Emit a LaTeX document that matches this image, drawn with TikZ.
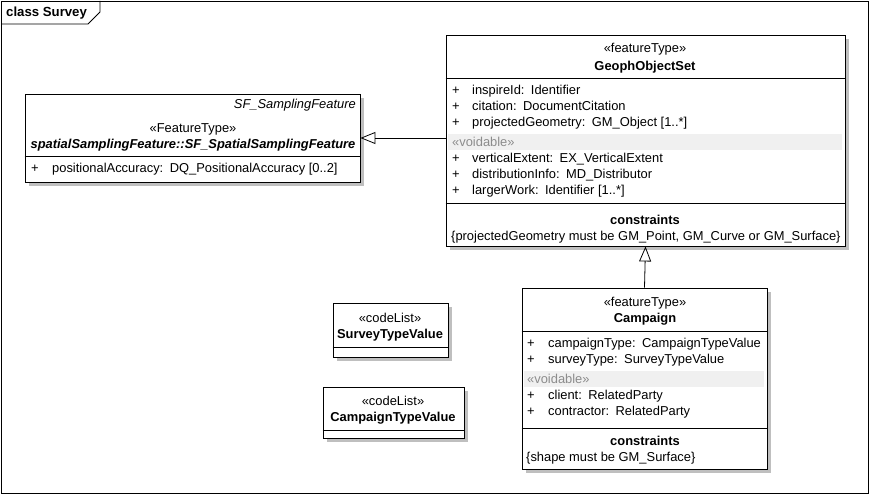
\documentclass[tikz,border=0pt]{standalone}
\usepackage{fontspec}
\setmainfont{Liberation Sans}
\usetikzlibrary{arrows.meta}

\tikzset{
  umlbox/.style={draw, line width=0.9pt, fill=white, inner sep=0pt},
  umlshadow/.style={fill=black!25},
  voidband/.style={fill=black!6},
  txt/.style={inner sep=0pt, anchor=mid, yshift=-2pt},
  attr/.style={inner sep=0pt, anchor=mid west, yshift=-2pt},
  inherit/.style={-{Triangle[open, width=12pt, length=15pt]}, line width=0.8pt},
}

\begin{document}
\begin{tikzpicture}[x=1pt, y=-1pt, font=\fontsize{12.9}{15}\selectfont]
  \useasboundingbox (0,0) rectangle (871,495);
  % frame and title tab
  \draw[line width=0.9pt] (1.5,1) rectangle (868,493);
  \draw[line width=0.9pt] (1.5,24) -- (88,24) -- (100,12) -- (100,1);
  \node[attr, font=\fontsize{13.2}{16}\selectfont\bfseries] (title) at (6,12) {class Survey};

  % class boxes
  \node[umlbox, minimum width=335pt, minimum height=88pt] (sf) at (192.5,138) {};
  \node[umlbox, minimum width=399pt, minimum height=211pt] (geo) at (645.5,140.5) {};
  \node[umlbox, minimum width=245pt, minimum height=181pt] (camp) at (644.5,378.5) {};
  \node[umlbox, minimum width=115pt, minimum height=54pt] (stv) at (390.5,330) {};
  \node[umlbox, minimum width=141pt, minimum height=51pt] (ctv) at (393.5,412.5) {};
  \foreach \n in {sf,geo,camp,stv,ctv} {
    \fill[umlshadow] ([shift={(0.5,4)}]\n.north east) rectangle ([shift={(3.5,3.5)}]\n.south east);
    \fill[umlshadow] ([shift={(4,0.5)}]\n.south west) rectangle ([shift={(3.5,3.5)}]\n.south east);
  }

  % compartments
  \foreach \n/\y in {sf/156, geo/78, geo/203, camp/331, camp/428, stv/347, ctv/430}
    \draw[line width=0.9pt] (\n.west |- 0,\y) -- (\n.east |- 0,\y);
  \fill[voidband] (448,134) rectangle (842,150);
  \fill[voidband] (524,371) rectangle (764,387);

  % SF_SpatialSamplingFeature
  \node[inner sep=0pt, anchor=mid east, yshift=-2pt, font=\fontsize{12.9}{15}\selectfont\itshape] (sfparent) at (356,104) {SF\_SamplingFeature};
  \node[txt] (sfst) at (193,128) {«FeatureType»};
  \node[txt, font=\fontsize{12.9}{15}\selectfont\bfseries\itshape] (sfname) at (193,144) {spatialSamplingFeature::SF\_SpatialSamplingFeature};
  \node[attr] (sfplus) at (31,168) {+};
  \node[attr] (sfattr) at (52,168) {positionalAccuracy:\enspace DQ\_PositionalAccuracy [0..2]};

  % GeophObjectSet
  \node[txt] (geost) at (645,48) {«featureType»};
  \node[txt, font=\fontsize{12.9}{15}\selectfont\bfseries] (geoname) at (645,66) {GeophObjectSet};
  \foreach \y/\t in {90/{inspireId:\enspace Identifier}, 106/{citation:\enspace DocumentCitation},
      122/{projectedGeometry:\enspace GM\_Object [1..*]}, 158/{verticalExtent:\enspace EX\_VerticalExtent},
      174/{distributionInfo:\enspace MD\_Distributor}, 190/{largerWork:\enspace Identifier [1..*]}} {
    \node[attr] (geoplus\y) at (452,\y) {+};
    \node[attr] (geoattr\y) at (472,\y) {\t};
  }
  \node[attr, text=black!45] (geovoid) at (452,142) {«voidable»};
  \node[txt, font=\fontsize{12.9}{15}\selectfont\bfseries] (geocons) at (645,220) {constraints};
  \node[attr] (geoconstext) at (451,236) {\{projectedGeometry must be GM\_Point, GM\_Curve or GM\_Surface\}};

  % Campaign
  \node[txt] (campst) at (645,302) {«featureType»};
  \node[txt, font=\fontsize{12.9}{15}\selectfont\bfseries] (campname) at (645,318) {Campaign};
  \foreach \y/\t in {343/{campaignType:\enspace CampaignTypeValue}, 359/{surveyType:\enspace SurveyTypeValue},
      395/{client:\enspace RelatedParty}, 411/{contractor:\enspace RelatedParty}} {
    \node[attr] (campplus\y) at (527,\y) {+};
    \node[attr] (campattr\y) at (548,\y) {\t};
  }
  \node[attr, text=black!45] (campvoid) at (527,379) {«voidable»};
  \node[txt, font=\fontsize{12.9}{15}\selectfont\bfseries] (campcons) at (645,441) {constraints};
  \node[attr] (campconstext) at (526,457) {\{shape must be GM\_Surface\}};

  % code lists
  \node[txt] (stvst) at (390,318) {«codeList»};
  \node[txt, font=\fontsize{12.9}{15}\selectfont\bfseries] (stvname) at (390,334) {SurveyTypeValue};
  \node[txt] (ctvst) at (393,401) {«codeList»};
  \node[txt, font=\fontsize{12.9}{15}\selectfont\bfseries] (ctvname) at (393,417) {CampaignTypeValue};

  % generalizations
  \draw[inherit] (camp.north) -- (geo.south);
  \draw[inherit] (geo.west |- sf.east) -- (sf.east);
\end{tikzpicture}
\end{document}
